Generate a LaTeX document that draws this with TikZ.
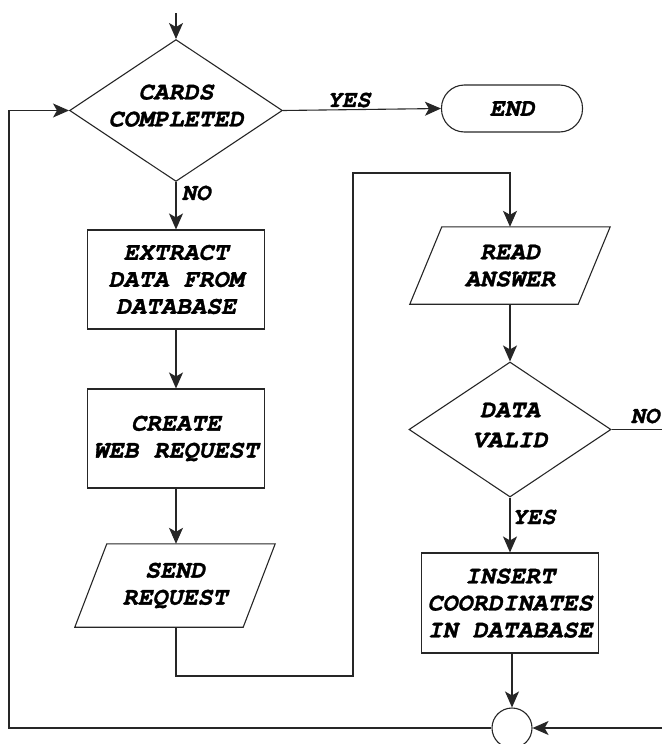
\documentclass[tikz,border=0pt]{standalone}
\usepackage{fontspec}
\newfontfamily\flowfont{TeX Gyre Cursor}[BoldItalicFeatures={FakeBold=1.3}]
\usetikzlibrary{shapes.geometric,arrows.meta}

\tikzset{
  every node/.style={font=\flowfont\bfseries\itshape\fontsize{25}{27}\selectfont, align=center, inner sep=0pt},
  line/.style={line width=1.1pt, draw=black!85},
  arr/.style={line, -{Stealth[length=16pt,width=14pt,inset=4pt]}},
  proc/.style={line, rectangle, minimum width=177pt, minimum height=99pt},
  dec/.style={line, diamond, aspect=1.5, minimum width=201pt, minimum height=134pt},
  term/.style={line, rectangle, rounded corners=23pt, minimum width=141pt, minimum height=47pt},
  io/.style={rectangle, minimum width=168pt},
  joint/.style={line, circle, minimum size=40pt},
  lab/.style={font=\flowfont\bfseries\itshape\fontsize{24}{26}\selectfont},
}
% slanted input/output outline drawn around a plain rectangle node
\newcommand\ioframe[1]{%
  \draw[line] ([xshift=16pt]#1.north west) -- ([xshift=16pt]#1.north east)
    -- ([xshift=-16pt]#1.south east) -- ([xshift=-16pt]#1.south west) -- cycle;}

\begin{document}
\begin{tikzpicture}[x=1pt, y=-1pt]
\useasboundingbox (0,0) rectangle (662,744);

% left column
\coordinate (start) at (176,13);
\node[dec, text depth=10pt] (cards) at (176,110.5) {CARDS\\COMPLETED};
\node[term] (end) at (512,108.5) {END};
\node[proc] (extract) at (176,279.5) {EXTRACT\\DATA FROM\\DATABASE};
\node[proc] (create) at (176,438.5) {CREATE\\WEB REQUEST};
\node[io, minimum height=83pt] (send) at (175,585.5) {SEND\\REQUEST};
\ioframe{send}

% right column
\node[io, minimum height=77pt, text depth=-10pt] (read) at (510,265.5) {READ\\ANSWER};
\ioframe{read}
\node[dec, minimum width=202pt, minimum height=135pt, text depth=9pt] (valid) at (510,429.5) {DATA\\[3pt]VALID};
\node[proc, minimum height=100pt, text depth=-6pt] (insert) at (510,603) {INSERT\\COORDINATES\\IN DATABASE};
\node[joint] (join) at (512,728) {};

% helper points
\coordinate (d1) at (353,676);
\coordinate (d2) at (353,173);
\coordinate (noend) at (662,429.5);
\coordinate (rin) at (662,728);
\coordinate (lb) at (9,728);

% connectors
\draw[arr] (start) -- (cards.north);
\draw[arr] (cards.east) -- (end.west);
\draw[arr] (cards.south) -- (extract.north);
\draw[arr] (extract.south) -- (create.north);
\draw[arr] (create.south) -- (create.south |- send.north);
\draw[arr] (send.south -| create.south) |- (d1) -- (d2) -| (read.north);
\draw[arr] (read.south) -- (valid.north);
\draw[arr] (valid.south) -- (insert.north);
\draw[line] (valid.east) -- (noend);
\draw[arr] (join.north |- insert.south) -- (join.north);
\draw[arr] (rin) -- (join.east);
\draw[arr] (join.west) -- (lb) |- (cards.west);

% branch labels
\node[lab] (yes1) at (349,100) {YES};
\node[lab] (no1) at (196,193) {NO};
\node[lab] (no2) at (645,416) {NO};
\node[lab] (yes2) at (534,517) {YES};
\end{tikzpicture}
\end{document}
